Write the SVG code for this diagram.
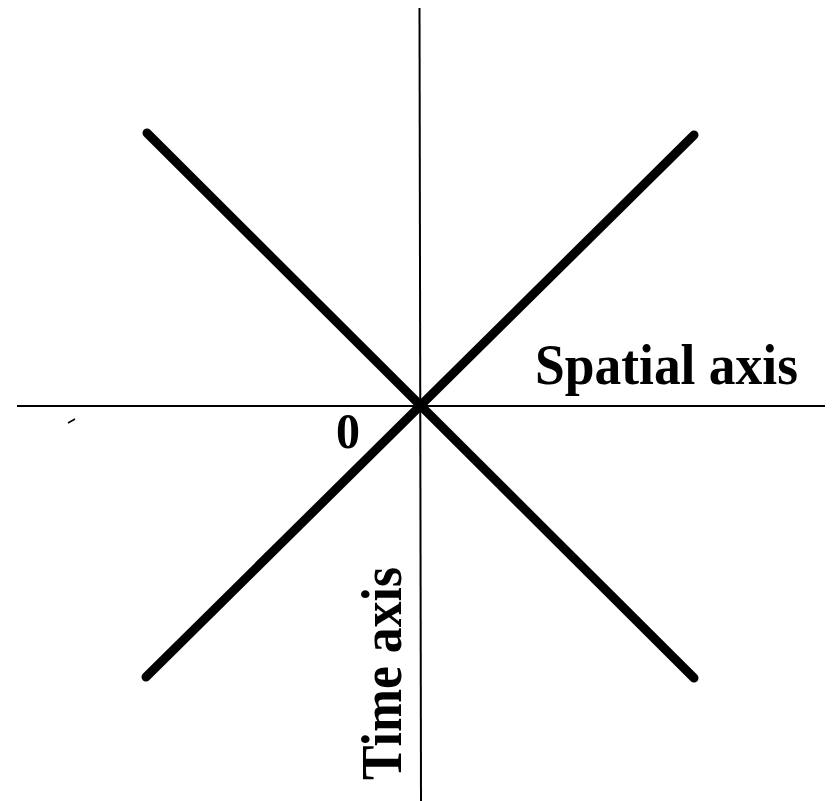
<svg xmlns="http://www.w3.org/2000/svg" width="835" height="801" viewBox="0 0 835 801">
<style>
.axis{stroke:#000;stroke-width:2;fill:none}
.cone{stroke:#000;stroke-width:9;stroke-linecap:round;fill:none}
.lbl{font-family:"Liberation Serif","Times New Roman",serif;font-weight:bold;fill:#000}
</style>
<rect width="835" height="801" fill="#fff"/>
<g id="connectors">
<line class="axis" x1="17" y1="406" x2="825" y2="406"/>
<line class="axis" x1="419.5" y1="8" x2="421" y2="801"/>
<line class="cone" x1="147" y1="133" x2="694" y2="678"/>
<line class="cone" x1="146" y1="677" x2="694" y2="135"/>
<path d="M68 423 L75 419" stroke="#000" stroke-width="1.5" fill="none"/>
</g>
<g id="spatial-label"><text class="lbl" x="535" y="384" font-size="57" textLength="263" lengthAdjust="spacingAndGlyphs">Spatial axis</text></g>
<g id="origin-label"><text class="lbl" x="336" y="448" font-size="51" textLength="24" lengthAdjust="spacingAndGlyphs">0</text></g>
<g id="time-label"><text class="lbl" transform="translate(401,780) rotate(-90)" font-size="57" textLength="213" lengthAdjust="spacingAndGlyphs">Time axis</text></g>
</svg>
